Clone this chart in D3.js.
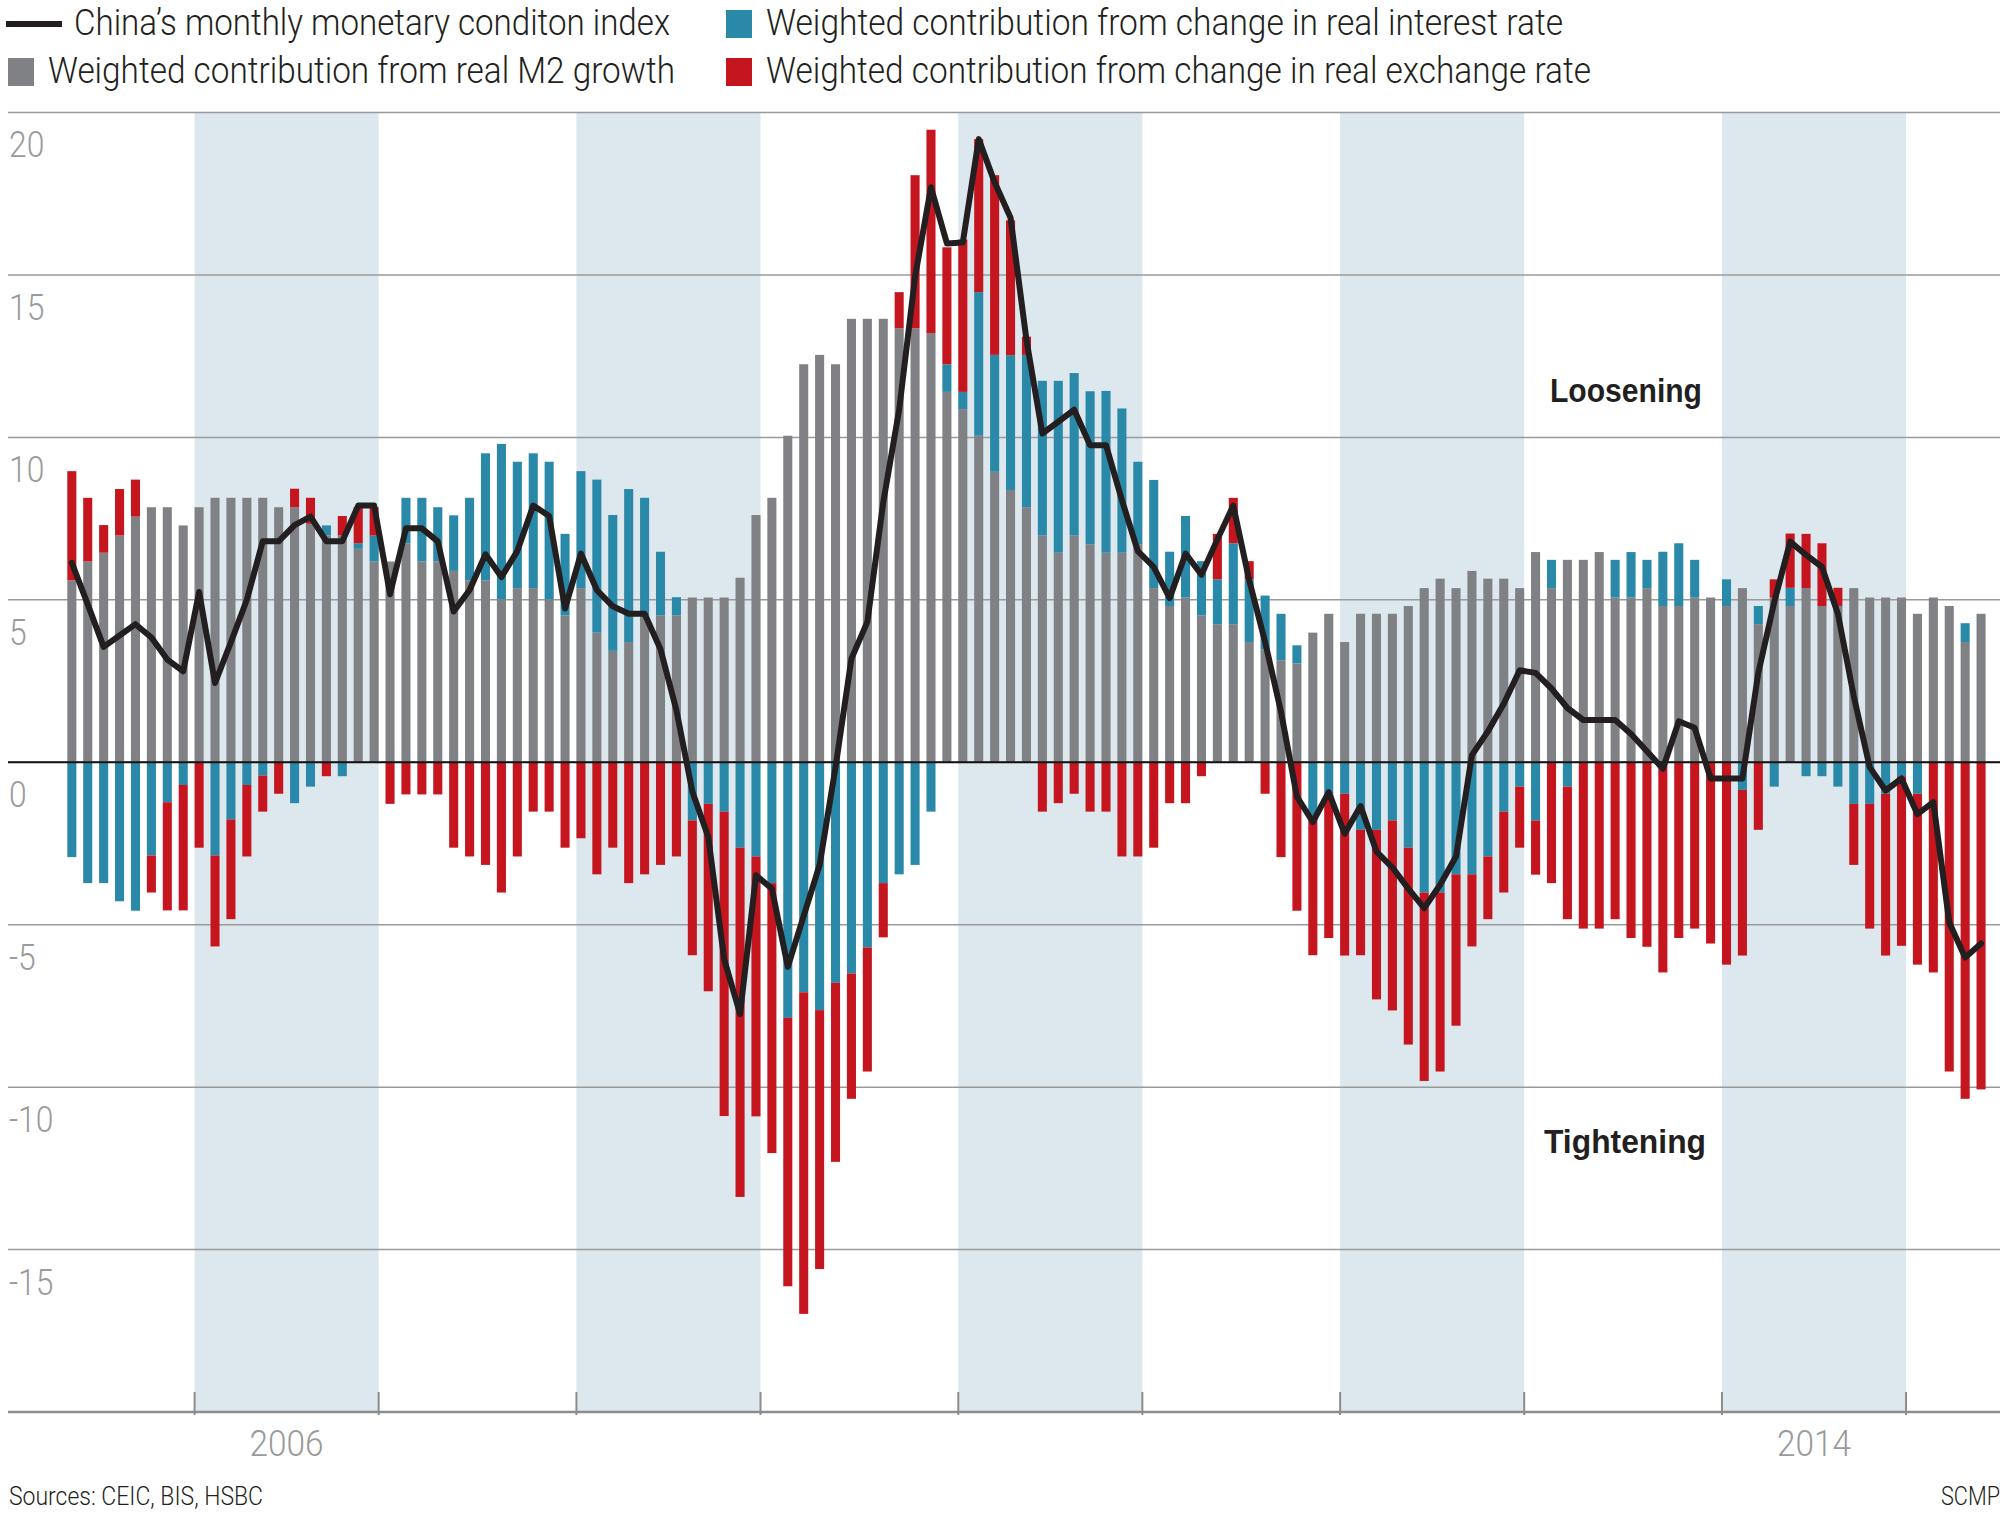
<!DOCTYPE html>
<html><head><meta charset="utf-8">
<script src="https://cdn.jsdelivr.net/npm/d3@7"></script>
<style>
html,body{margin:0;padding:0;background:#fff;}
svg{display:block;}
</style></head><body>
<svg id="chart" width="2008" height="1515"></svg>
<script>
// ---------- DATA ----------
const firstMonth = new Date(2005, 4, 1);   // May 2005
const lastMonth  = new Date(2015, 4, 1);   // May 2015

// Weighted contribution from real M2 growth
const m2 = [
  5.60, 6.18, 6.45, 6.98, 7.56, 7.85, 7.85, 7.29, 7.85, 8.14, 8.14, 8.14, 8.14, 7.85, 7.85,
  7.34, 6.98, 6.98, 6.57, 6.18, 6.18, 6.74, 6.18, 6.18, 5.89, 5.60, 5.60, 5.02, 5.36, 5.36,
  5.02, 4.52, 5.36, 3.99, 3.43, 3.70, 4.52, 4.52, 4.52, 5.07, 5.07, 5.07, 5.68, 7.61, 8.14,
  10.05, 12.25, 12.54, 12.25, 13.65, 13.65, 13.65, 13.36, 13.36, 13.21, 11.40, 10.87, 10.05, 8.94, 8.38,
  7.85, 6.98, 6.45, 6.98, 6.71, 6.45, 6.45, 6.71, 5.36, 4.81, 5.07, 4.52, 4.25, 4.25, 3.70,
  3.48, 3.14, 3.04, 3.99, 4.57, 3.70, 4.57, 4.57, 4.57, 4.81, 5.36, 5.65, 5.36, 5.89, 5.65,
  5.65, 5.36, 6.47, 5.36, 6.23, 6.23, 6.47, 5.07, 5.07, 5.36, 4.81, 4.81, 5.07, 5.07, 4.81,
  5.36, 4.25, 5.07, 4.81, 5.36, 4.81, 4.81, 5.36, 5.07, 5.07, 5.07, 4.57, 5.07, 4.81, 3.70, 4.57
];
// Weighted contribution from change in real interest rate
const rate = [
  -2.92, -3.72, -3.72, -4.28, -4.57, -2.87, -1.23, -0.70, 0, -2.87, -1.76, -0.70, -0.41, 0, -1.26,
  -0.75, 0.31, -0.43, 0.17, 0.80, 0, 1.40, 1.96, 1.67, 1.71, 2.54, 3.91, 4.78, 3.89, 4.15,
  4.23, 2.51, 3.60, 4.71, 4.18, 4.71, 3.62, 1.96, 0.56, -1.79, -1.28, -1.52, -2.63, -2.90, -3.72,
  -7.87, -7.08, -7.63, -6.79, -6.50, -5.70, -3.72, -3.45, -3.16, -1.52, 0.85, 0.53, 4.42, 3.60, 4.15,
  4.69, 4.76, 5.29, 5.00, 4.71, 4.98, 4.44, 2.54, 3.33, 1.67, 2.51, 1.67, 1.38, 2.49, 1.93,
  1.65, 1.43, 0.56, -1.79, -0.97, -0.97, -2.08, -2.08, -1.79, -2.63, -4.01, -4.01, -3.45, -3.45, -2.90,
  -1.52, -0.75, -1.79, 0.87, -0.75, 0, 0, 1.16, 1.40, 0.87, 1.67, 1.93, 1.16, 0, 0.82,
  -0.85, 0.56, -0.75, 0.56, -0.43, -0.43, -0.75, -1.28, -1.28, -0.97, -0.43, -0.97, 0, 0, 0.58, 0
];
// Weighted contribution from change in real exchange rate
const fx = [
  3.36, 1.96, 0.85, 1.43, 1.14, -1.14, -3.33, -3.86, -2.63, -2.80, -3.07, -2.20, -1.11, -0.97, 0.57,
  0.80, -0.43, 0.60, 1.11, 0.87, -1.28, -0.99, -0.99, -0.99, -2.63, -2.90, -3.16, -4.01, -2.90, -1.52,
  -1.52, -2.63, -2.34, -3.45, -2.63, -3.72, -3.45, -3.16, -2.90, -4.15, -5.77, -9.37, -10.75, -8.00, -8.31,
  -8.26, -9.90, -7.97, -5.51, -3.86, -3.82, -1.67, 1.11, 4.71, 6.26, 3.60, 4.69, 4.71, 5.53, 4.15,
  0.56, -1.52, -1.26, -0.97, -1.52, -1.52, -2.90, -2.90, -2.63, -1.26, -1.26, -0.43, 1.40, 1.40, 0.56,
  -0.97, -2.92, -4.57, -4.15, -4.44, -4.98, -3.86, -5.22, -5.85, -6.06, -5.80, -5.51, -4.66, -2.22, -1.93,
  -2.49, -1.88, -1.67, -3.72, -4.08, -5.12, -5.12, -4.83, -5.41, -5.68, -6.47, -5.41, -5.12, -5.58, -6.23,
  -5.10, -2.08, 0.56, 1.67, 1.67, 1.93, 0.56, -1.88, -3.84, -4.98, -5.22, -5.26, -6.47, -9.52, -10.36, -10.07
];
// China's monthly monetary condition index
const mci = [
  6.14, 4.86, 3.55, 3.90, 4.25, 3.84, 3.16, 2.80, 5.24, 2.44, 3.70, 5.00, 6.80, 6.80, 7.30,
  7.56, 6.80, 6.80, 7.90, 7.90, 5.17, 7.20, 7.20, 6.80, 4.64, 5.30, 6.40, 5.70, 6.50, 7.90,
  7.58, 4.73, 6.42, 5.30, 4.80, 4.57, 4.57, 3.48, 1.60, -0.90, -2.30, -6.06, -7.75, -3.48, -3.89,
  -6.30, -4.73, -3.16, -0.15, 3.19, 4.32, 8.00, 10.85, 14.95, 17.70, 15.97, 16.00, 19.18, 17.85, 16.76,
  13.00, 10.12, 10.48, 10.85, 9.76, 9.76, 8.07, 6.50, 6.01, 5.05, 6.42, 5.77, 6.86, 7.90, 5.60,
  3.70, 1.55, -1.06, -1.84, -0.92, -2.20, -1.35, -2.75, -3.24, -3.89, -4.49, -3.77, -2.90, 0.22, 0.95,
  1.80, 2.83, 2.75, 2.27, 1.67, 1.30, 1.30, 1.30, 0.87, 0.34, -0.20, 1.26, 1.06, -0.50, -0.50,
  -0.50, 2.75, 4.93, 6.79, 6.38, 6.01, 4.57, 2.03, -0.15, -0.87, -0.50, -1.60, -1.23, -4.93, -6.01, -5.58
];

const yTicks = [20, 15, 10, 5, 0, -5, -10, -15];
const shadedYears = [2006, 2008, 2010, 2012, 2014];
const labeledYears = [2006, 2014];
const seriesKeys = ["m2", "rate", "fx"];
const seriesColors = {m2: "#808184", rate: "#2a88a8", fx: "#c5161f"};
const legendLine = "China\u2019s monthly monetary conditon index";
const legendRate = "Weighted contribution from change in real interest rate";
const legendM2 = "Weighted contribution from real M2 growth";
const legendFx = "Weighted contribution from change in real exchange rate";
const sourceText = "Sources: CEIC, BIS, HSBC";
const creditText = "SCMP";

// ---------- BUILD ----------
const months = d3.timeMonths(firstMonth, d3.timeMonth.offset(lastMonth, 1));
const table = months.map((d, i) => ({date: d, m2: m2[i], rate: rate[i], fx: fx[i], mci: mci[i]}));

const svg = d3.select("#chart");
const FONT = "Roboto, 'Liberation Sans', sans-serif";
const BOLD = "'Liberation Sans', Arial, sans-serif";

const x = d3.scaleBand().domain(months.map(d => +d)).range([67.3, 1985.6]).paddingInner(0.43).paddingOuter(0);
const y = d3.scaleLinear().domain([-20, 20]).range([1412, 112.5]);
const gridX0 = 8, gridX1 = 2000;

// shaded year bands
const bandRange = yr => {
  const a = x(+new Date(yr, 0, 1));
  const b = x(+new Date(yr, 11, 1)) + x.bandwidth();
  return [a, b];
};
svg.append("g").selectAll("rect").data(shadedYears).join("rect")
  .attr("x", d => bandRange(d)[0]).attr("width", d => bandRange(d)[1] - bandRange(d)[0])
  .attr("y", y(20)).attr("height", y(-20) - y(20))
  .attr("fill", "#dde7ee");

// gridlines
svg.append("g").selectAll("line").data(yTicks).join("line")
  .attr("x1", gridX0).attr("x2", gridX1)
  .attr("y1", d => y(d)).attr("y2", d => y(d))
  .attr("stroke", "#9a9a9a").attr("stroke-width", 1.5);

// y tick labels
svg.append("g").selectAll("text").data(yTicks).join("text")
  .attr("x", 9).attr("y", d => y(d) + 45)
  .attr("font-family", FONT).attr("font-weight", 300).attr("font-size", 37)
  .attr("fill", "#999a9c")
  .attr("transform", d => `translate(9,${y(d) + 45}) scale(0.86,1) translate(-9,${-(y(d) + 45)})`)
  .text(d => d);

// stacked bars
const stack = d3.stack().keys(seriesKeys).offset(d3.stackOffsetDiverging);
const layers = stack(table);
svg.append("g").selectAll("g").data(layers).join("g")
  .attr("fill", d => seriesColors[d.key])
  .selectAll("rect").data(d => d).join("rect")
  .attr("x", d => x(+d.data.date))
  .attr("width", x.bandwidth())
  .attr("y", d => y(Math.max(d[0], d[1])))
  .attr("height", d => Math.abs(y(d[0]) - y(d[1])));

// zero line
svg.append("line").attr("x1", gridX0).attr("x2", gridX1)
  .attr("y1", y(0)).attr("y2", y(0)).attr("stroke", "#111").attr("stroke-width", 2);

// bottom axis line + ticks
svg.append("line").attr("x1", gridX0).attr("x2", gridX1)
  .attr("y1", y(-20)).attr("y2", y(-20)).attr("stroke", "#8c8c8c").attr("stroke-width", 2.5);
const tickXs = shadedYears.flatMap(yr => bandRange(yr));
svg.append("g").selectAll("line").data(tickXs).join("line")
  .attr("x1", d => d).attr("x2", d => d)
  .attr("y1", y(-20) - 20).attr("y2", y(-20) + 3)
  .attr("stroke", "#8c8c8c").attr("stroke-width", 2);
svg.append("g").selectAll("text").data(labeledYears).join("text")
  .attr("x", d => (bandRange(d)[0] + bandRange(d)[1]) / 2).attr("y", 1456)
  .attr("text-anchor", "middle")
  .attr("font-family", FONT).attr("font-weight", 300).attr("font-size", 36)
  .attr("fill", "#999a9c")
  .attr("textLength", 74).attr("lengthAdjust", "spacingAndGlyphs")
  .text(d => d);

// MCI line
const line = d3.line().x(d => x(+d.date) + x.bandwidth() / 2).y(d => y(d.mci));
svg.append("path").datum(table).attr("d", line)
  .attr("fill", "none").attr("stroke", "#231f20").attr("stroke-width", 6)
  .attr("stroke-linejoin", "round").attr("stroke-linecap", "round");

// annotations
svg.append("text").attr("x", 1626).attr("y", 402).attr("text-anchor", "middle")
  .attr("font-family", BOLD).attr("font-weight", 700).attr("font-size", 34).attr("fill", "#231f20")
  .attr("textLength", 152).attr("lengthAdjust", "spacingAndGlyphs").text("Loosening");
svg.append("text").attr("x", 1625).attr("y", 1153).attr("text-anchor", "middle")
  .attr("font-family", BOLD).attr("font-weight", 700).attr("font-size", 34).attr("fill", "#231f20")
  .attr("textLength", 162).attr("lengthAdjust", "spacingAndGlyphs").text("Tightening");

// legend
const lg = svg.append("g");
lg.append("line").attr("x1", 6).attr("x2", 62).attr("y1", 24).attr("y2", 24)
  .attr("stroke", "#231f20").attr("stroke-width", 6);
const legendRects = [
  {x: 726, y: 10, c: seriesColors.rate},
  {x: 8, y: 58, c: seriesColors.m2},
  {x: 726, y: 58, c: seriesColors.fx}
];
lg.selectAll("rect").data(legendRects).join("rect")
  .attr("x", d => d.x).attr("y", d => d.y).attr("width", 26).attr("height", 28).attr("fill", d => d.c);
const legendTexts = [
  {t: legendLine, x: 74, y: 35, w: 596},
  {t: legendRate, x: 766, y: 35, w: 797},
  {t: legendM2, x: 48, y: 83, w: 627},
  {t: legendFx, x: 766, y: 83, w: 825}
];
lg.selectAll("text").data(legendTexts).join("text")
  .attr("x", d => d.x).attr("y", d => d.y)
  .attr("font-family", FONT).attr("font-weight", 300).attr("font-size", 36).attr("fill", "#231f20")
  .attr("textLength", d => d.w).attr("lengthAdjust", "spacingAndGlyphs")
  .text(d => d.t);

// footer
svg.append("text").attr("x", 9).attr("y", 1505)
  .attr("font-family", FONT).attr("font-weight", 300).attr("font-size", 25).attr("fill", "#231f20")
  .attr("textLength", 254).attr("lengthAdjust", "spacingAndGlyphs").text(sourceText);
svg.append("text").attr("x", 2000).attr("y", 1505).attr("text-anchor", "end")
  .attr("font-family", FONT).attr("font-weight", 300).attr("font-size", 25).attr("fill", "#231f20")
  .attr("textLength", 59).attr("lengthAdjust", "spacingAndGlyphs").text(creditText);
</script>
</body></html>
